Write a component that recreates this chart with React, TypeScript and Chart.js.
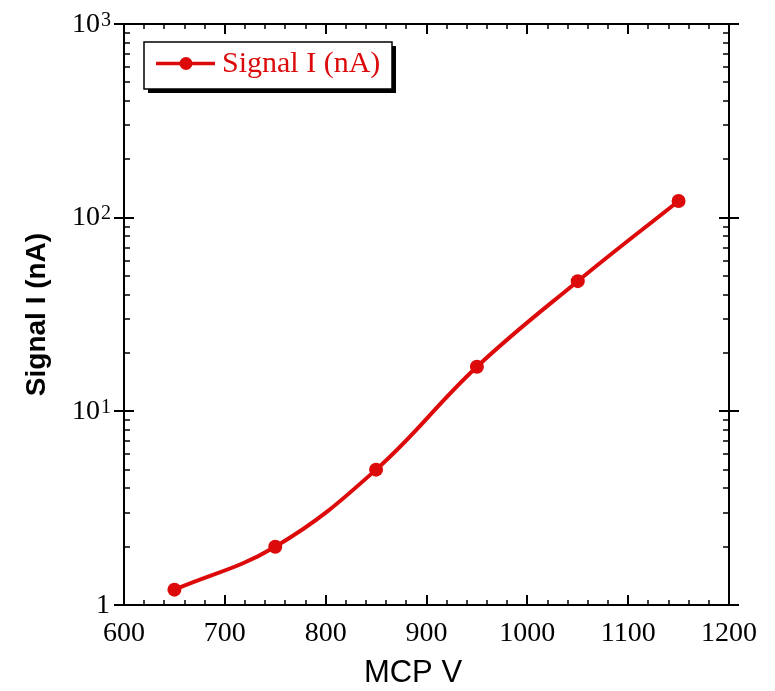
import { useEffect, useRef } from 'react';
import { Chart, registerables } from 'chart.js';

Chart.register(...registerables);

// ---- data ----
const mcpVoltages = [650, 750, 850, 950, 1050, 1150];
const signalCurrent = [1.2, 2.0, 5.0, 17, 47, 122];
const seriesLabel = 'Signal I (nA)';
const xAxisTitle = 'MCP V';
const yAxisTitle = 'Signal I (nA)';
const xTickValues = [600, 700, 800, 900, 1000, 1100, 1200];
const xMinorStep = 20;
const yDecadeValues = [1, 10, 100, 1000];
const yDecadeBases = ['1', '10', '10', '10'];
const yDecadeExponents = ['', '1', '2', '3'];
const yMinorMultipliers = [2, 3, 4, 5, 6, 7, 8, 9];

const RED = '#dc0a0a';
const SERIF = '"Liberation Serif", "Times New Roman", serif';
const SANS = '"Liberation Sans", Arial, sans-serif';

const frameTicksPlugin = {
  id: 'frameTicks',
  afterDraw(chart: any) {
    const { ctx, chartArea, scales } = chart;
    const { left, right, top, bottom } = chartArea;
    const xs = scales.x;
    const ys = scales.y;
    ctx.save();
    ctx.strokeStyle = '#000';
    ctx.lineCap = 'butt';

    // x ticks (inward, top and bottom)
    const xMin = xTickValues[0];
    const xMax = xTickValues[xTickValues.length - 1];
    for (let v = xMin; v <= xMax; v += xMinorStep) {
      const major = xTickValues.includes(v);
      const px = Math.round(xs.getPixelForValue(v));
      const len = major ? 10 : 5;
      ctx.lineWidth = major ? 2 : 1.5;
      ctx.beginPath();
      ctx.moveTo(px, bottom);
      ctx.lineTo(px, bottom - len);
      ctx.moveTo(px, top);
      ctx.lineTo(px, top + len);
      ctx.stroke();
    }

    // y ticks
    yDecadeValues.forEach((d, i) => {
      const py = Math.round(ys.getPixelForValue(d));
      ctx.lineWidth = 2;
      ctx.beginPath();
      ctx.moveTo(left - 10, py);
      ctx.lineTo(left + 10, py);
      ctx.moveTo(right - 10, py);
      ctx.lineTo(right + 10, py);
      ctx.stroke();
      if (i < yDecadeValues.length - 1) {
        yMinorMultipliers.forEach((m) => {
          const pm = Math.round(ys.getPixelForValue(d * m));
          ctx.lineWidth = 1.5;
          ctx.beginPath();
          ctx.moveTo(left, pm);
          ctx.lineTo(left + 6, pm);
          ctx.moveTo(right, pm);
          ctx.lineTo(right - 6, pm);
          ctx.stroke();
        });
      }
    });

    // frame
    ctx.lineWidth = 2;
    ctx.strokeRect(left, top, right - left, bottom - top);

    // y tick labels with superscript exponents
    ctx.fillStyle = '#000';
    ctx.textBaseline = 'alphabetic';
    ctx.textAlign = 'left';
    const labelRight = 110;
    yDecadeValues.forEach((d, i) => {
      const py = ys.getPixelForValue(d);
      const base = yDecadeBases[i];
      const exp = yDecadeExponents[i];
      ctx.font = '20px ' + SERIF;
      const ew = exp ? ctx.measureText(exp).width : 0;
      ctx.font = '28px ' + SERIF;
      const bw = ctx.measureText(base).width;
      const bx = labelRight - ew - bw;
      ctx.fillText(base, bx, py + 7.5);
      if (exp) {
        ctx.font = '20px ' + SERIF;
        ctx.fillText(exp, bx + bw + 1, py + 1.5);
      }
    });

    // x axis title (centred slightly left of the plot centre, as in the reference)
    ctx.font = '31px ' + SANS;
    ctx.fillStyle = '#000';
    ctx.textAlign = 'center';
    ctx.textBaseline = 'middle';
    ctx.fillText(xAxisTitle, 413, 673);

    // legend box with shadow
    const ds = chart.data.datasets[0];
    const lx = 144, ly = 42, lw = 248, lh = 47;
    ctx.fillStyle = '#000';
    ctx.fillRect(lx + 4, ly + 4, lw, lh);
    ctx.fillStyle = '#fff';
    ctx.fillRect(lx, ly, lw, lh);
    ctx.lineWidth = 1.5;
    ctx.strokeStyle = '#000';
    ctx.strokeRect(lx, ly, lw, lh);
    const my = 63.5;
    ctx.strokeStyle = ds.borderColor;
    ctx.lineWidth = 3.5;
    ctx.beginPath();
    ctx.moveTo(156, my);
    ctx.lineTo(215, my);
    ctx.stroke();
    ctx.fillStyle = ds.backgroundColor;
    ctx.beginPath();
    ctx.arc(186, my, 6.5, 0, Math.PI * 2);
    ctx.fill();
    ctx.font = '30px ' + SERIF;
    ctx.fillStyle = ds.borderColor;
    ctx.textAlign = 'left';
    ctx.textBaseline = 'alphabetic';
    ctx.fillText(ds.label, 222, 72);

    ctx.restore();
  },
};

export default function App() {
  const canvasRef = useRef<HTMLCanvasElement | null>(null);

  useEffect(() => {
    document.body.style.margin = '0';
    const canvas = canvasRef.current;
    if (!canvas) return;
    const chart = new Chart(canvas, {
      type: 'line',
      data: {
        datasets: [
          {
            label: seriesLabel,
            data: mcpVoltages.map((v, i) => ({ x: v, y: signalCurrent[i] })),
            borderColor: RED,
            backgroundColor: RED,
            borderWidth: 4,
            pointRadius: 7,
            pointHoverRadius: 7,
            pointBackgroundColor: RED,
            pointBorderColor: RED,
            pointBorderWidth: 0,
            tension: 0.4,
            fill: false,
          },
        ],
      },
      options: {
        animation: false,
        responsive: false,
        events: [],
        layout: { padding: { left: 0, top: 24, right: 46, bottom: 0 } },
        plugins: {
          legend: { display: false },
          tooltip: { enabled: false },
        },
        scales: {
          x: {
            type: 'linear',
            min: 600,
            max: 1200,
            grid: { display: false, drawTicks: false },
            border: { display: false },
            ticks: {
              stepSize: 100,
              padding: 12,
              color: '#000',
              font: { family: SERIF, size: 28 },
              maxRotation: 0,
              callback: (v: any) => String(v),
            },
            title: { display: false, text: xAxisTitle },
            afterFit(scale: any) {
              scale.height = 86;
            },
          },
          y: {
            type: 'logarithmic',
            min: 1,
            max: 1000,
            grid: { display: false, drawTicks: false },
            border: { display: false },
            ticks: { display: false },
            title: {
              display: true,
              text: yAxisTitle,
              color: '#000',
              font: { family: SANS, size: 28, weight: 'bold' },
              padding: { top: 20, bottom: 0 },
            },
            afterFit(scale: any) {
              scale.width = 124;
            },
          },
        },
      } as any,
      plugins: [frameTicksPlugin],
    });
    return () => chart.destroy();
  }, []);

  return <canvas ref={canvasRef} width={775} height={691} />;
}
